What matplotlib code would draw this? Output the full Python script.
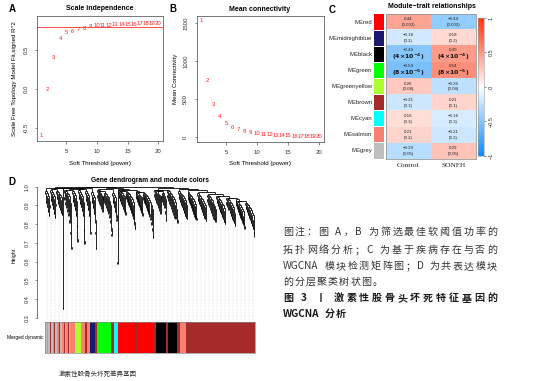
import numpy as np
import matplotlib
matplotlib.use('Agg')
import matplotlib.pyplot as plt
from matplotlib.collections import LineCollection
from matplotlib.colors import LinearSegmentedColormap

plt.rcParams['font.family'] = ['Liberation Sans', 'Noto Sans CJK SC', 'DejaVu Sans']
plt.rcParams['axes.unicode_minus'] = True

# ---------------- data ----------------
powers = [1, 2, 3, 4, 5, 6, 7, 8, 9, 10, 11, 12, 13, 14, 15, 16, 17, 18, 19, 20]
sft_r2 = [-0.60, -0.01, 0.41, 0.65, 0.72, 0.74, 0.76, 0.77, 0.80, 0.82,
          0.82, 0.82, 0.83, 0.83, 0.83, 0.83, 0.84, 0.84, 0.84, 0.84]
r2_cut = 0.80
mean_k = [1536, 741, 434, 274, 185, 128, 102, 75, 58, 45,
          36, 29, 23, 19, 16, 13, 11, 9, 8, 7]

modules = ['MEred', 'MEmidnightblue', 'MEblack', 'MEgreen', 'MEgreenyellow',
           'MEbrown', 'MEcyan', 'MEsalmon', 'MEgrey']
module_colors = ['#FF0000', '#191970', '#000000', '#00FF00', '#ADFF2F',
                 '#A52A2A', '#00FFFF', '#FA8072', '#BEBEBE']
traits = ['Control', 'SONFH']
cor_control = [0.44, -0.18, -0.49, -0.54, 0.26, -0.21, 0.16, 0.21, -0.29]
cor_sonfh = [-0.44, 0.18, 0.49, 0.54, -0.26, 0.21, -0.16, -0.21, 0.29]
pvals = [0.002, 0.2, 4e-4, 8e-5, 0.08, 0.1, 0.3, 0.2, 0.05]

# dendrogram: merge heights (x1000) between adjacent leaves of the ordered tree, one string per branch
dendro_groups = [
    "975 930 965 905 950 880 940 860 900 995",
    "980 940 970 915 960 895 950 870 935 850 910 990",
    "978 950 972 925 962 905 955 890 945 875 930 865 993",
    "360 992",
    "982 945 975 920 968 900 960 880 950 860 935 820 915 760 680 985",
    "975 935 965 910 955 890 940 860 925 800 720 990",
    "980 950 972 925 962 905 950 885 940 860 920 780 710 988",
    "976 940 966 915 955 890 945 860 925 830 760 992",
    "970 930 958 900 945 870 930 820 760 680 996",
    "985 955 978 940 970 925 965 910 958 895 950 880 975 945 968 930 960 915 952 900 "
    "945 885 938 870 925 850 905 820 780 750 990",
    "965 930 955 905 945 880 925 850 830 995",
    "600 990",
    "982 955 976 940 970 925 965 910 958 895 952 880 945 865 978 950 972 935 965 920 "
    "960 905 952 890 945 875 935 860 920 840 900 810 790 985",
    "975 950 970 935 965 920 958 905 952 890 945 875 938 860 970 945 965 930 960 915 "
    "955 900 948 885 940 870 930 855 918 835 900 810 880 780 740 999",
    "985 960 980 945 975 930 968 915 962 900 955 885 948 870 975 950 968 935 960 920 "
    "950 900 935 870 830 985",
    "980 955 975 940 968 925 960 910 952 895 945 880 935 865 920 850 905 840 880 830 820 995",
    "975 950 968 935 960 920 955 905 948 890 940 875 930 860 918 850 900 840 987",
    "970 945 962 930 955 915 948 900 940 885 932 870 922 855 910 845 895 835 980",
    "965 940 958 925 950 910 942 895 935 880 925 865 915 850 905 840 890 830 972",
    "958 935 950 920 943 905 935 890 928 875 918 860 908 845 898 835 880 825 963",
    "950 928 943 912 935 898 928 882 920 868 910 852 900 840 888 828 870 815 952",
    "942 920 935 905 928 890 920 875 912 860 902 845 892 832 880 820 860 805 940",
    "932 910 925 895 918 880 910 865 902 850 892 835 882 822 868 808 845 790 925",
    "915 895 908 880 900 865 892 850 884 835 874 820 862 805 850 790 820 765 745",
]
dendro_hang = 0.015

bar_colors = ['#BEBEBE', '#FA8072', '#BEBEBE', '#A52A2A', '#BEBEBE', '#FA8072', '#A52A2A',
              '#BEBEBE', '#FA8072', '#A52A2A', '#BEBEBE', '#FA8072', '#A52A2A', '#BEBEBE',
              '#FA8072', '#A52A2A', '#BEBEBE',
              '#FA8072', '#ADFF2F', '#FA8072', '#A52A2A', '#FA8072', '#191970', '#A52A2A',
              '#00FF00', '#A52A2A', '#00FFFF', '#FF0000', '#A52A2A', '#FF0000',
              '#A52A2A', '#000000', '#A52A2A', '#000000', '#A52A2A', '#000000', '#A52A2A',
              '#FA8072', '#A52A2A', '#FF0000', '#A52A2A']
bar_sizes = [2, 1, 2, 1, 1.5, 1.5, 1, 2, 2, 1, 1.5, 2, 1.5, 1, 2, 1, 1,
             5, 5.7, 4.3, 1.7, 3.3, 5, 2.3,
             13.7, 3, 4.3, 17.7, 0.8, 17.3,
             1.3, 1, 0.9, 8.2, 2.6, 9, 2.7,
             5.7, 2, 0.6, 66.7]

caption_lines = ['图注：图 A，B 为筛选最佳软阈值功率的',
                 '拓扑网络分析；C 为基于疾病存在与否的',
                 'WGCNA 模块检测矩阵图；D 为共表达模块',
                 '的分层聚类树状图。',
                 '图 3 丨 激素性股骨头坏死特征基因的',
                 'WGCNA 分析']
caption_bold = [False, False, False, False, True, True]
caption_justify = [True, True, True, False, True, False]
caption_y = [231.5, 249.3, 265.7, 281.0, 297.7, 313.0]

# ---------------- figure ----------------
W, H = 555, 381
fig = plt.figure(figsize=(W / 100, H / 100), dpi=100)


def add_ax(l, t, r, b):
    return fig.add_axes([l / W, 1 - b / H, (r - l) / W, (b - t) / H])


def ftext(x, y, s, **kw):
    return fig.text(x / W, 1 - y / H, s, **kw)


def style_box(ax):
    for sp in ax.spines.values():
        sp.set_color('#444444')
        sp.set_linewidth(0.5)
    ax.tick_params(length=1.8, width=0.4, colors='#333333', labelsize=4.3, pad=4.2)
    for lab in ax.get_yticklabels():
        lab.set_rotation(90)
        lab.set_va('center')


# ---- Panel A ----
axA = add_ax(37, 16, 163, 141)
axA.set_xlim(0.24, 20.76)
axA.set_ylim(-0.667, 0.936)
axA.set_xticks([5, 10, 15, 20])
axA.set_yticks([-0.5, 0.0, 0.5])
axA.set_yticklabels(['-0.5', '0.0', '0.5'])
style_box(axA)
axA.axhline(r2_cut, color='#FF3030', lw=0.6)
for p, v in zip(powers, sft_r2):
    axA.text(p, v, str(p), color='#FF2020', fontsize=4.3, ha='center', va='center')
ftext(100, 8.5, 'Scale independence', fontsize=5, weight='bold', ha='center', va='center')
ftext(100, 163, 'Soft Threshold (power)', fontsize=4.4, ha='center', va='center')
ftext(15, 78.5, 'Scale Free Topology Model Fit,signed R^2', fontsize=4.4, rotation=90,
      ha='center', va='center')
ftext(12.5, 9.5, 'A', fontsize=7, weight='bold', ha='center', va='center')

# ---- Panel B ----
axB = add_ax(196.5, 16, 324, 141.7)
axB.set_xlim(0.24, 20.76)
axB.set_ylim(-61, 1597)
axB.set_xticks([5, 10, 15, 20])
axB.set_yticks([0, 500, 1000, 1500])
style_box(axB)
for p, v in zip(powers, mean_k):
    axB.text(p, v, str(p), color='#FF2020', fontsize=4.3, ha='center', va='center')
ftext(260, 9.3, 'Mean connectivity', fontsize=5, weight='bold', ha='center', va='center')
ftext(260, 163, 'Soft Threshold (power)', fontsize=4.4, ha='center', va='center')
ftext(175, 78.5, 'Mean Connectivity', fontsize=4.4, rotation=90, ha='center', va='center')
ftext(173, 9.5, 'B', fontsize=7, weight='bold', ha='center', va='center')

# ---- Panel C ----
bwr = LinearSegmentedColormap.from_list('bwr_wgcna', [(0.05, 0.55, 1.0), (1, 1, 1), (1.0, 0.2, 0.05)])
mat = np.array([cor_control, cor_sonfh]).T
axC = add_ax(386, 14, 475.7, 159)
axC.imshow(mat, cmap=bwr, vmin=-1, vmax=1, aspect='auto', extent=(0, 2, len(modules), 0))
axC.set_xticks([])
axC.set_yticks([])
for sp in axC.spines.values():
    sp.set_color('#999999')
    sp.set_linewidth(0.6)


def ptxt(p):
    if p >= 0.001:
        return '(%s)' % ('%g' % p), False
    m, e = ('%.0e' % p).split('e')
    return r'$\mathbf{(%s{\times}10^{%d})}$' % (m, int(e)), True


for i in range(len(modules)):
    for j, c in enumerate([cor_control[i], cor_sonfh[i]]):
        s, big = ptxt(pvals[i])
        rs = ('%.2f' % c).replace('-', '\u2212')
        if big:
            axC.text(j + 0.5, i + 0.24, rs, fontsize=3.2, ha='center', va='center', color='#222222')
            axC.text(j + 0.5, i + 0.64, s, fontsize=4.5, ha='center', va='center', color='#111111')
        else:
            axC.text(j + 0.5, i + 0.33, rs, fontsize=3.2, ha='center', va='center', color='#222222')
            axC.text(j + 0.5, i + 0.68, s, fontsize=3.2, ha='center', va='center', color='#222222')

axCc = add_ax(374, 14, 384.3, 159)
axCc.set_xlim(0, 1)
axCc.set_ylim(len(modules), 0)
axCc.bar([0.5] * len(modules), [0.94] * len(modules), bottom=np.arange(len(modules)) + 0.03,
         width=1, color=module_colors, linewidth=0)
axCc.axis('off')
for i, m in enumerate(modules):
    ftext(372.3, 14 + (i + 0.5) * (145 / len(modules)), m, fontsize=4.3, ha='right',
          va='center', color='#222222')
for j, t in enumerate(traits):
    ftext(386 + (j + 0.5) * (89.7 / 2), 165.5, t, fontsize=5.3, ha='center', va='center',
          family='Liberation Serif', color='#222222')
ftext(432, 6.8, 'Module\u2212trait relationships', fontsize=5, weight='bold', ha='center',
      va='center')
ftext(332, 10, 'C', fontsize=7, weight='bold', ha='center', va='center')

axCb = add_ax(478.3, 18, 484.3, 156)
grad = np.linspace(-1, 1, 256).reshape(-1, 1)
axCb.imshow(grad, cmap=bwr, vmin=-1, vmax=1, aspect='auto', origin='lower', extent=(0, 1, -1, 1))
axCb.set_xticks([])
axCb.yaxis.tick_right()
axCb.set_yticks([-1, -0.5, 0, 0.5, 1])
axCb.set_yticklabels(['\u22121', '\u22120.5', '0', '0.5', '1'])
axCb.tick_params(length=1.5, width=0.4, labelsize=4.0, pad=1.5, colors='#333333')
for lab in axCb.get_yticklabels():
    lab.set_rotation(90)
    lab.set_va('center')
for sp in axCb.spines.values():
    sp.set_color('#999999')
    sp.set_linewidth(0.4)

# ---- Panel D: dendrogram ----
gaps = np.array([float(v) / 1000.0 for grp in dendro_groups for v in grp.split()])
N = len(gaps) + 1
segs = []
leaf_bottom = np.zeros(N)


def build(a, b):
    if a == b:
        return float(a), None
    k = a + int(np.argmax(gaps[a:b]))
    h = gaps[k]
    xl, hl = build(a, k)
    xr, hr = build(k + 1, b)
    for xc, hc in ((xl, hl), (xr, hr)):
        if hc is None:
            hc = h - dendro_hang
            leaf_bottom[int(xc)] = hc
        segs.append([(xc, h), (xc, hc)])
    segs.append([(xl, h), (xr, h)])
    return (xl + xr) / 2, h


build(0, N - 1)
axD = add_ax(45, 183, 255, 320)
axD.set_xlim(-0.5, N - 0.5)
axD.set_ylim(0.288, 1.02)
guide = [[(i, 0.288), (i, leaf_bottom[i])] for i in range(4, N, 8)]
axD.add_collection(LineCollection(guide, colors='#C8C8C8', linewidths=0.35,
                                  linestyles=(0, (1.5, 1.5))))
axD.add_collection(LineCollection(segs, colors='black', linewidths=0.6))
axD.set_xticks([])
for s in ['top', 'right', 'bottom']:
    axD.spines[s].set_visible(False)
axD.spines['left'].set_position(('outward', 6))
axD.spines['left'].set_bounds(0.3, 1.0)
axD.spines['left'].set_linewidth(0.5)
axD.spines['left'].set_color('#444444')
axD.set_yticks([0.3, 0.4, 0.5, 0.6, 0.7, 0.8, 0.9, 1.0])
axD.tick_params(axis='y', length=1.8, width=0.4, labelsize=4.0, pad=3.5, colors='#333333')
for lab in axD.get_yticklabels():
    lab.set_rotation(90)
    lab.set_va('center')
ftext(14, 255, 'Height', fontsize=3.8, rotation=90, ha='center', va='center')
ftext(150, 181, 'Gene dendrogram and module colors', fontsize=4.8, weight='bold',
      ha='center', va='center')
ftext(11.7, 182, 'D', fontsize=7, weight='bold', ha='center', va='center')

axBar = add_ax(45, 322, 255, 353)
lefts = np.concatenate([[0], np.cumsum(bar_sizes)[:-1]])
axBar.barh([0] * len(bar_sizes), bar_sizes, left=lefts, height=1, color=bar_colors, linewidth=0)
axBar.set_xlim(0, sum(bar_sizes))
axBar.set_ylim(-0.5, 0.5)
axBar.set_xticks([])
axBar.set_yticks([])
for sp in axBar.spines.values():
    sp.set_color('#888888')
    sp.set_linewidth(0.5)
ftext(25, 338, 'Merged dynamic', fontsize=3.5, ha='center', va='center')
ftext(97.5, 374, '激素性股骨头坏死差异基因', fontsize=4.7, ha='center', va='center',
      family=['Noto Sans CJK SC'], color='#333333')

# ---- caption text (justified CJK lines) ----
renderer = fig.canvas.get_renderer()
x0, x1 = 283.0, 497.0
fs_cap = 7.2
em = fs_cap * 100 / 72


def tokens(line):
    out = []
    for ch in line:
        if ch == ' ':
            out.append(' ')
        elif ord(ch) < 0x2E80 and out and out[-1] != ' ' and ord(out[-1][-1]) < 0x2E80:
            out[-1] += ch
        else:
            out.append(ch)
    return out


for line, bold, just, y in zip(caption_lines, caption_bold, caption_justify, caption_y):
    wt = 'bold' if bold else 'normal'
    toks = tokens(line)
    widths = []
    for tk in toks:
        if tk == ' ':
            widths.append(em * 0.25)
        elif ord(tk[0]) >= 0x2E80:
            widths.append(em)
        else:
            t = fig.text(0, 0, tk, fontsize=fs_cap, weight=wt, family=['Noto Sans CJK SC'])
            widths.append(t.get_window_extent(renderer).width + 0.4)
            t.remove()
    natural = sum(widths)
    nslots = len(toks) - 1
    gap = (x1 - x0 - natural) / max(1, nslots) if just else 1.2
    x = x0
    for tk, w in zip(toks, widths):
        if tk != ' ':
            ftext(x, y + 0.36 * em, tk, fontsize=fs_cap, weight=wt, family=['Noto Sans CJK SC'],
                  ha='left', va='baseline', color='#1a1a1a' if bold else '#333333')
        x += w + gap

fig.savefig('out.png', dpi=100)
